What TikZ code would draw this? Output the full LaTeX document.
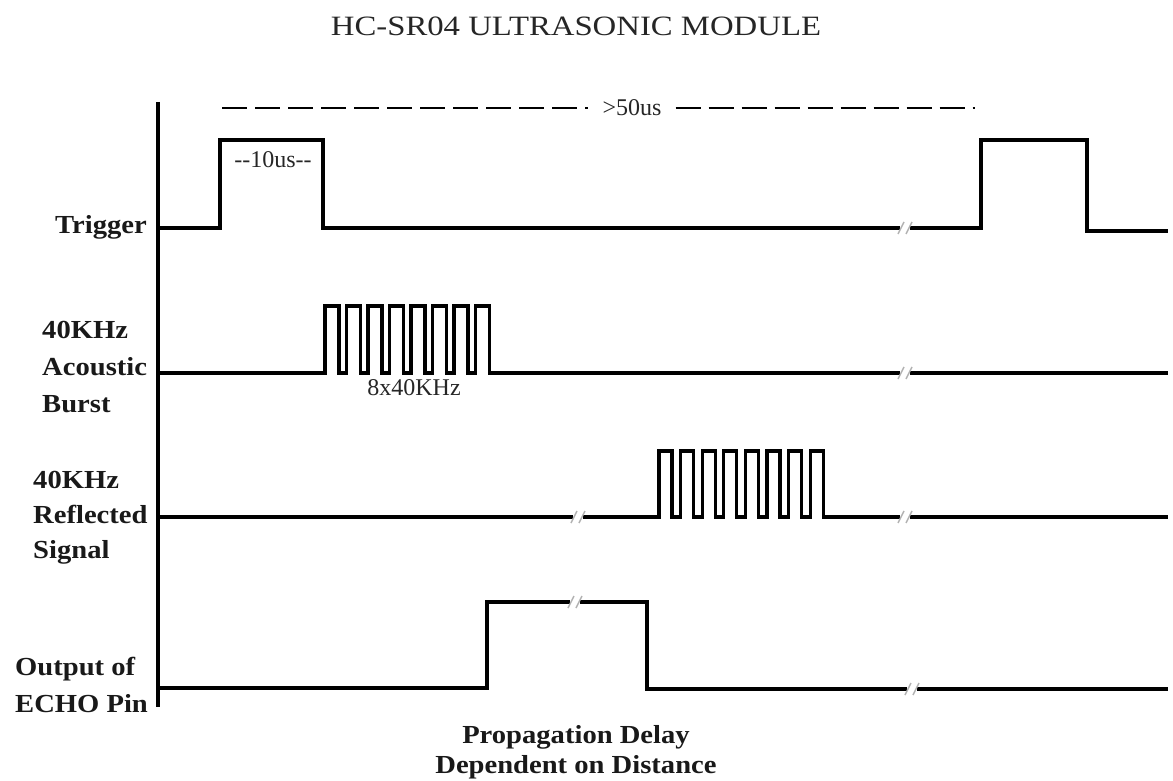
\documentclass[tikz,border=0pt]{standalone}
\usepackage{fontspec}
\setmainfont{Liberation Serif}
\newfontfamily\titlefont[FakeStretch=1.17]{Liberation Serif}
\newfontfamily\labfont[FakeStretch=1.1]{Liberation Serif}
\newfontfamily\smallfont{Liberation Serif}
\begin{document}
\begin{tikzpicture}[x=1pt,y=-1pt,
  wave/.style={line width=3.5pt, line join=miter, black},
  fast/.style={line width=3.3pt, line join=miter, black},
  lab/.style={inner sep=0pt, anchor=base west, font=\labfont\bfseries\fontsize{26}{30}\selectfont, text=black!90},
  note/.style={inner sep=0pt, font=\smallfont\fontsize{24}{28}\selectfont, text=black!85},
  brk/.pic={
    \fill[white] (-5,-6) rectangle (5,6);
    \draw[gray!60, line width=1.5pt] (-7,6) -- (-1,-6);
    \draw[gray!60, line width=1.5pt] (1,6) -- (7,-6);
  }]
\useasboundingbox (0,0) rectangle (1173,781);

% title
\node[inner sep=0pt, anchor=base, font=\titlefont\fontsize{28}{32}\selectfont, text=black!85] (title) at (576,36) {HC-SR04 ULTRASONIC MODULE};

% axis
\coordinate (axtop) at (158,102);
\coordinate (axbot) at (158,707);
\draw[wave] (axtop) -- (axbot);

% labels
\node[lab, anchor=base east] (ltrig) at (147,233) {Trigger};
\node[lab] (lb1) at (42,338) {40KHz};
\node[lab] (lb2) at (42,375) {Acoustic};
\node[lab] (lb3) at (42,412) {Burst};
\node[lab] (lr1) at (33,488) {40KHz};
\node[lab] (lr2) at (33,523) {Reflected};
\node[lab] (lr3) at (33,558) {Signal};
\node[lab] (le1) at (15,675) {Output of};
\node[lab] (le2) at (15,712) {ECHO Pin};

% >50us dashed
\node[note, inner xsep=14pt] (gt) at (632,108) {>50us};
\coordinate (dstart) at (222,108);
\coordinate (dend) at (975,108);
\draw[line width=2.5pt, dash pattern=on 25pt off 8pt] (dstart) -- (gt.west);
\draw[line width=2.5pt, dash pattern=on 25pt off 8pt] (gt.east) -- (dend);

% trigger
\draw[wave] (158,228) -- (220,228) -- (220,140) -- (323,140) -- (323,228) -- (981,228)
  -- (981,140) -- (1087,140) -- (1087,231) -- (1168,231);
\node[note] (ten) at (273,160) {--10us--};
\pic at (905,228) {brk};

% acoustic burst
\draw[fast] (158,373) -- (325,373)
  \foreach \i in {0,...,7} { -- ({325+\i*21.5},306) -- ({339+\i*21.5},306) -- ({339+\i*21.5},373) -- ({346.5+\i*21.5},373) }
  -- (1168,373);
\node[note] (eight) at (414,388) {8x40KHz};
\pic at (905,373) {brk};

% reflected
\draw[fast] (158,517) -- (659,517)
  \foreach \i in {0,...,7} { -- ({659+\i*21.6},451) -- ({672+\i*21.6},451) -- ({672+\i*21.6},517) -- ({680.6+\i*21.6},517) }
  -- (1168,517);
\pic at (578,517) {brk};
\pic at (905,517) {brk};

% echo
\draw[wave] (158,688) -- (487,688) -- (487,602) -- (647,602) -- (647,689) -- (1168,689);
\pic at (575,602) {brk};
\pic at (912,689) {brk};

% bottom text
\node[lab, anchor=base] (p1) at (576,743) {Propagation Delay};
\node[lab, anchor=base] (p2) at (576,773) {Dependent on Distance};
\end{tikzpicture}
\end{document}
